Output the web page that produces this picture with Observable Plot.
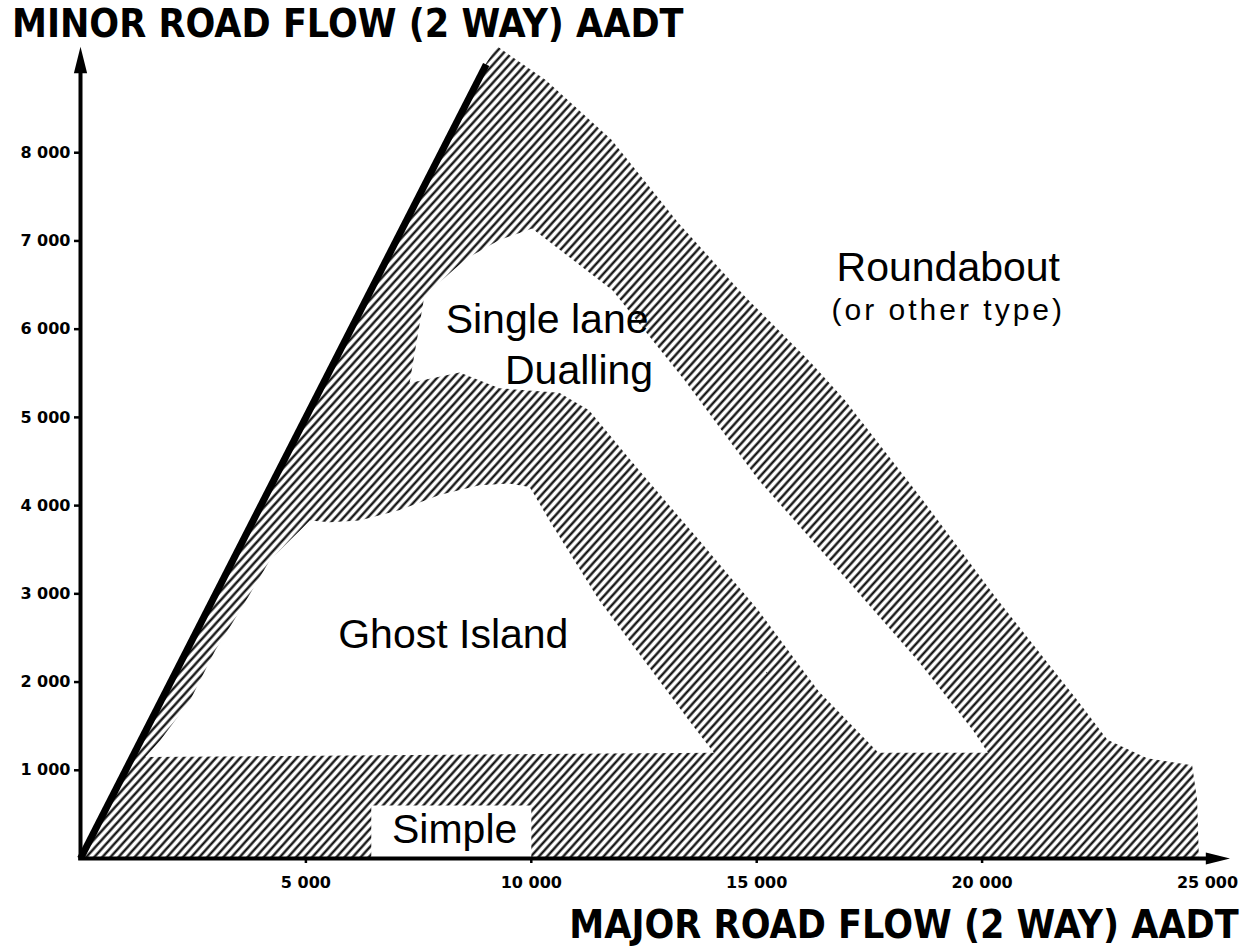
<!DOCTYPE html>
<html><head><meta charset="utf-8">
<script src="https://cdn.jsdelivr.net/npm/d3@7"></script>
<script src="https://cdn.jsdelivr.net/npm/@observablehq/plot@0.6"></script>
<style>
html,body{margin:0;padding:0;background:#fff;}
#wrap{position:relative;width:1249px;height:949px;overflow:hidden;background:#fff;}
.axtitle{position:absolute;font-family:"DejaVu Sans",sans-serif;font-weight:bold;font-size:39px;line-height:39px;white-space:nowrap;color:#000;}
#ytitle{left:12px;top:4px;transform:scaleX(0.9);transform-origin:left top;}
#xtitle{right:10px;top:905px;transform:scaleX(0.9);transform-origin:right top;}
#chart{position:absolute;left:0;top:45px;}
</style></head><body>
<div id="wrap">
<div id="ytitle" class="axtitle">MINOR ROAD FLOW (2 WAY) AADT</div>
<div id="chart"></div>
<div id="xtitle" class="axtitle">MAJOR ROAD FLOW (2 WAY) AADT</div>
</div>
<script>
// ---- tick values and labels
const xTicks = [5000, 10000, 15000, 20000, 25000];
const xTickLabels = ["5 000", "10 000", "15 000", "20 000", "25 000"];
const yTicks = [1000, 2000, 3000, 4000, 5000, 6000, 7000, 8000];
const yTickLabels = ["1 000", "2 000", "3 000", "4 000", "5 000", "6 000", "7 000", "8 000"];
// axis arrow extents (AADT)
const axisEndX = [25500];
const axisEndY = [9200];

// ---- boundary line (minor flow = major flow)
const boundaryX = [0, 9000];
const boundaryY = [0, 9000];

// ---- outer envelope of the hatched (transition) zone
const outerX = [0, 9000, 9250, 10330, 11790, 13270, 14760, 16220, 16970, 18690, 20350, 22120, 22790, 23670, 24670, 24780, 24820];
const outerY = [0, 9000, 9200, 8820, 8140, 7200, 6360, 5610, 5190, 4060, 2930, 1790, 1340, 1130, 1050, 660, 0];

// ---- "Ghost Island" zone (white)
const ghostX = [1440, 14050, 13500, 12830, 12170, 11500, 10950, 10400, 10070, 9960, 9510, 8850, 7960, 7080, 6190, 5530, 5090, 4200, 3540, 2990, 2430, 1770];
const ghostY = [1150, 1200, 1560, 2020, 2470, 2930, 3380, 3830, 4120, 4210, 4250, 4230, 4120, 3950, 3830, 3810, 3830, 3380, 2810, 2360, 1790, 1340];

// ---- "Single lane Dualling" zone (white)
const dualX = [10020, 11800, 13400, 15040, 16810, 18580, 19800, 20130, 17700, 16370, 15040, 13720, 12390, 11280, 10620, 9290, 8410, 7300, 7460, 7630, 8560, 9290];
const dualY = [7140, 6440, 5420, 4290, 3270, 2240, 1450, 1200, 1200, 1900, 2810, 3610, 4400, 5080, 5280, 5330, 5510, 5390, 5870, 6380, 6800, 7010];

// ---- white box behind the "Simple" label
const simpleBoxX = [6450, 10000, 10000, 6450];
const simpleBoxY = [0, 0, 600, 600];

// ---- zone labels
const zoneNames = ["Roundabout", "Single lane", "Dualling", "Ghost Island", "Simple"];
const zoneX = [19250, 10350, 11060, 8270, 8300];
const zoneY = [6700, 6100, 5530, 2530, 320];
const noteNames = ["(or other type)"];
const noteX = [19250];
const noteY = [6210];

const pts = (xs, ys) => xs.map((x, i) => ({x, y: ys[i]}));
const outer = pts(outerX, outerY);
const ghost = pts(ghostX, ghostY);
const dual = pts(dualX, dualY);
const simpleBox = pts(simpleBoxX, simpleBoxY);
const boundary = pts(boundaryX, boundaryY);
const zones = zoneNames.map((t, i) => ({t, x: zoneX[i], y: zoneY[i]}));
const notes = noteNames.map((t, i) => ({t, x: noteX[i], y: noteY[i]}));

const arrowHead = {
  draw(ctx, size) {
    const r = Math.sqrt(size / Math.PI);
    ctx.moveTo(0, 0);
    ctx.lineTo(-1.1 * r, 4.4 * r);
    ctx.lineTo(1.1 * r, 4.4 * r);
    ctx.closePath();
  }
};

const svg = Plot.plot({
  width: 1249,
  height: 860,
  marginLeft: 80,
  marginRight: 42,
  marginTop: 19,
  marginBottom: 47,
  style: {background: "white", color: "black", fontFamily: "DejaVu Sans, sans-serif"},
  x: {domain: [0, 25000]},
  y: {domain: [0, 9000]},
  marks: [
    Plot.areaY(outer, {x: "x", y: "y", fill: "url(#hatch)"}),
    Plot.line(ghost, {x: "x", y: "y", fill: "white", stroke: "none", curve: "linear-closed"}),
    Plot.line(dual, {x: "x", y: "y", fill: "white", stroke: "none", curve: "linear-closed"}),
    Plot.line(simpleBox, {x: "x", y: "y", fill: "white", stroke: "none", curve: "linear-closed"}),
    Plot.line(boundary, {x: "x", y: "y", stroke: "black", strokeWidth: 7, strokeLinecap: "butt"}),
    Plot.ruleX([0], {y1: -20, y2: axisEndY[0] - 150, stroke: "black", strokeWidth: 4}),
    Plot.ruleY([0], {x1: -40, x2: axisEndX[0] - 300, stroke: "black", strokeWidth: 4}),
    Plot.dot(axisEndY, {x: 0, y: d => d, symbol: arrowHead, r: 6, fill: "black", stroke: "none"}),
    Plot.dot(axisEndX, {x: d => d, y: 0, symbol: arrowHead, r: 5.5, rotate: 90, fill: "black", stroke: "none"}),
    Plot.axisY(yTicks, {tickSize: 6, tickPadding: 4, strokeWidth: 2.5, fontSize: 16, fontWeight: "bold",
      tickFormat: d => yTickLabels[yTicks.indexOf(d)], label: null}),
    Plot.axisX(xTicks, {tickSize: 5, tickPadding: 13, strokeWidth: 2.5, fontSize: 16, fontWeight: "bold",
      tickFormat: d => xTickLabels[xTicks.indexOf(d)], label: null}),
    Plot.text(zones, {x: "x", y: "y", text: "t", fontSize: 41, fontFamily: "Liberation Sans, Arial, sans-serif", fill: "black"}),
    Plot.text(notes, {x: "x", y: "y", text: "t", fontSize: 30, fontFamily: "Liberation Sans, Arial, sans-serif", fill: "black"})
  ]
});

const defs = d3.select(svg).insert("defs", ":first-child");
const pat = defs.append("pattern")
  .attr("id", "hatch")
  .attr("patternUnits", "userSpaceOnUse")
  .attr("width", 6)
  .attr("height", 10)
  .attr("patternTransform", "rotate(42)");
pat.append("rect").attr("width", 6).attr("height", 10).attr("fill", "white");
pat.append("line").attr("x1", 1.5).attr("y1", -1).attr("x2", 1.5).attr("y2", 11)
  .attr("stroke", "black").attr("stroke-width", 2.2);

d3.select(svg).selectAll("text")
  .filter(function() { return this.textContent === "(or other type)"; })
  .style("letter-spacing", "3px");

document.getElementById("chart").appendChild(svg);
</script>
</body></html>
